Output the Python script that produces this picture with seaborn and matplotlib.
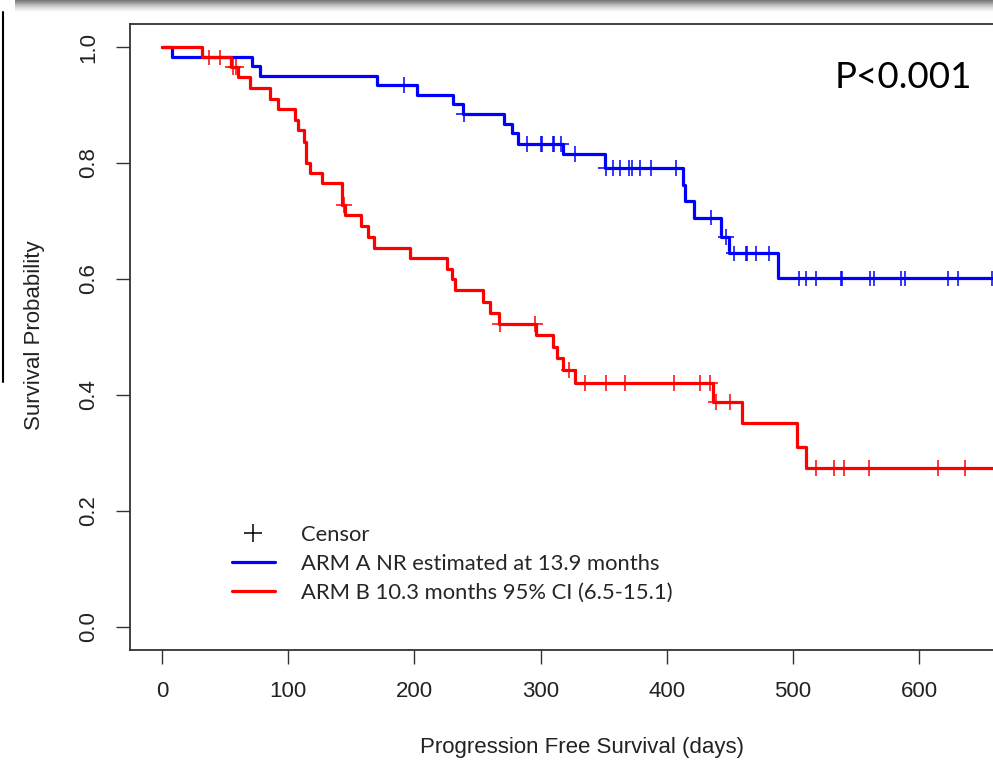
import numpy as np
import pandas as pd
import matplotlib
matplotlib.use("Agg")
import matplotlib.pyplot as plt
from matplotlib.lines import Line2D
import seaborn as sns

# Kaplan-Meier steps (days, survival after the drop)
arm_a_times = [0, 7.7, 71, 77.6, 170, 201.8, 230.8, 238.5, 271.2, 277, 282.4, 318,
               351, 413, 414.5, 422, 443.4, 449.5, 488.4, 670]
arm_a_surv = [1.0, 0.983, 0.967, 0.950, 0.935, 0.918, 0.901, 0.884, 0.868, 0.852,
              0.833, 0.815, 0.792, 0.762, 0.734, 0.706, 0.673, 0.644, 0.601, 0.601]
arm_a_censor = [192, 239, 289, 300, 301.5, 309.5, 310.6, 316.4, 327.6, 352, 357.6,
                362.9, 370.2, 372.6, 378.8, 387.2, 407.7, 435, 447, 453.4, 462.9,
                463.6, 470.6, 480.9, 505, 510.7, 518.6, 538.4, 539.2, 561, 564.4,
                586, 588.6, 623, 631, 658]

arm_b_times = [0, 31.4, 54.7, 60.4, 70.1, 85.6, 92.2, 105.4, 108, 112.5, 113.8, 117.3,
               126.5, 142.3, 145, 157.7, 163.5, 168.3, 196.5, 226, 229.5, 232, 254,
               259.9, 267.3, 296, 310, 313, 317.8, 327, 436.3, 459.8, 503.3, 510.7, 670]
arm_b_surv = [1.0, 0.982, 0.966, 0.949, 0.929, 0.910, 0.893, 0.874, 0.857, 0.837,
              0.800, 0.783, 0.766, 0.728, 0.710, 0.691, 0.673, 0.653, 0.636, 0.618,
              0.600, 0.581, 0.561, 0.541, 0.522, 0.503, 0.483, 0.463, 0.443, 0.421,
              0.388, 0.352, 0.311, 0.274, 0.274]
arm_b_censor = [37.1, 45.8, 56.5, 58.6, 144.2, 267.8, 295.4, 322.6, 335.6, 351.8,
                366.9, 405.7, 426.3, 434, 438.7, 450, 518.6, 532.5, 540.4, 560.2,
                615.1, 636.8]

arm_names = ["ARM A", "ARM B"]
legend_labels = ["Censor", "ARM A NR estimated at 13.9 months",
                 "ARM B 10.3 months 95% CI (6.5-15.1)"]
x_ticks = [0, 100, 200, 300, 400, 500, 600]
y_ticks = [0.0, 0.2, 0.4, 0.6, 0.8, 1.0]
palette = {"ARM A": "#0000ff", "ARM B": "#ff0000"}


def surv_at(times, surv, t):
    idx = np.searchsorted(times, t, side="right") - 1
    return np.asarray(surv)[idx]


steps = pd.concat([
    pd.DataFrame({"time": arm_a_times, "surv": arm_a_surv, "arm": "ARM A"}),
    pd.DataFrame({"time": arm_b_times, "surv": arm_b_surv, "arm": "ARM B"}),
])
censors = pd.concat([
    pd.DataFrame({"time": arm_a_censor,
                  "surv": surv_at(arm_a_times, arm_a_surv, arm_a_censor), "arm": "ARM A"}),
    pd.DataFrame({"time": arm_b_censor,
                  "surv": surv_at(arm_b_times, arm_b_surv, arm_b_censor), "arm": "ARM B"}),
])

sns.set_style("ticks")
plt.rcParams["font.family"] = ["Liberation Sans", "DejaVu Sans"]

fig = plt.figure(figsize=(9.93, 7.66), dpi=100)
ax = fig.add_axes([130 / 993, 116 / 766, 1 - 130 / 993, 626 / 766])

sns.lineplot(data=steps, x="time", y="surv", hue="arm", palette=palette,
             drawstyle="steps-post", estimator=None, sort=False, linewidth=2.3,
             legend=False, ax=ax)
sns.scatterplot(data=censors, x="time", y="surv", hue="arm", palette=palette,
                marker="+", s=130, linewidth=1.1, legend=False, zorder=3, ax=ax)

ax.set_xlim(-25.4, 658.6)
ax.set_ylim(-0.0397, 1.0397)
ax.set_xticks(x_ticks)
ax.set_xticklabels([str(v) for v in x_ticks])
ax.set_yticks(y_ticks)
ax.set_yticklabels([f"{v:.1f}" for v in y_ticks], rotation=90, va="center")
ax.tick_params(axis="both", length=10, width=1.0, color="#333333",
               labelsize=16, labelcolor="#222222")
ax.tick_params(axis="x", pad=12)
ax.tick_params(axis="y", pad=12)
for side in ["left", "bottom", "top"]:
    ax.spines[side].set_visible(True)
    ax.spines[side].set_color("#333333")
    ax.spines[side].set_linewidth(1.3)
ax.spines["right"].set_visible(False)

ax.set_xlabel("Progression Free Survival (days)", fontsize=16, color="#222222")
ax.xaxis.set_label_coords((581.5 - 130) / 863, -(747 - 650) / 626)
ax.xaxis.label.set_va("center")
ax.set_ylabel("Survival Probability", fontsize=16, color="#222222")
ax.yaxis.set_label_coords(-(130 - 35) / 863, (650 - 335) / 626)
ax.yaxis.label.set_va("center")

handles = [
    Line2D([], [], color="black", marker="+", linestyle="none", markersize=13,
           markeredgewidth=1.1),
    Line2D([], [], color=palette["ARM A"], linewidth=2.3),
    Line2D([], [], color=palette["ARM B"], linewidth=2.3),
]
ax.legend(handles, legend_labels, loc="upper left",
          bbox_to_anchor=(232 / 993, 1 - 525 / 766), bbox_transform=fig.transFigure,
          frameon=False, prop={"family": "Lato", "size": 15.8}, handlelength=1.95,
          handletextpad=1.2, labelspacing=0.4, borderpad=0, borderaxespad=0)

fig.text(835 / 993, 1 - 77 / 766, "P<0.001", fontsize=26.5, family="Lato",
         ha="left", va="center", color="black")

# slide remnants around the cropped screenshot
bar = fig.add_axes([15 / 993, 1 - 13 / 766, 1 - 15 / 993, 13 / 766])
grad = np.linspace(0.6, 0.0, 13)[:, None] * np.ones((1, 50))
bar.imshow(grad, cmap="Greys", vmin=0, vmax=1, aspect="auto")
bar.axis("off")
fig.add_artist(Line2D([2.5 / 993, 2.5 / 993], [1 - 12 / 766, 1 - 382 / 766],
                      color="black", linewidth=1.5))

fig.savefig("out.png", dpi=100, facecolor="white")
